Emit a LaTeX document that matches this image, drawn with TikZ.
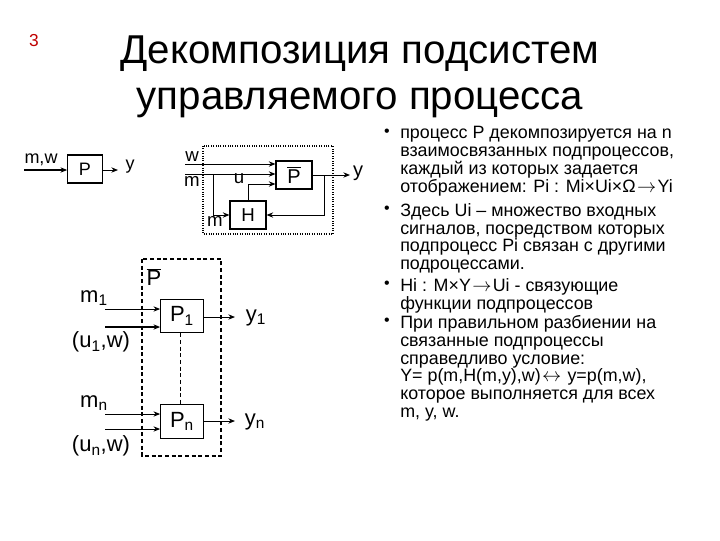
\documentclass[tikz,border=0pt]{standalone}
\usepackage{fontspec}
\setmainfont{Liberation Sans}
\newcommand{\ra}{\kern1pt$\rightarrow$\kern1pt}
\newcommand{\lra}{\kern1pt$\leftrightarrow$\kern1pt}
\usetikzlibrary{arrows.meta, calc, positioning}

\tikzset{
  blk/.style={draw, line width=0.8pt, inner sep=0pt, minimum width=35, minimum height=28},
  sig/.style={-{Stealth[length=5pt, width=4pt]}, line width=0.7pt},
  thk/.style={line width=1.4pt},
  lbl/.style={inner sep=0pt},
  txt/.style={anchor=north west, align=left, inner sep=0pt, font=\fontsize{13.4}{13.4}\selectfont},
  dot/.style={inner sep=0pt, font=\fontsize{12}{13}\selectfont}
}

\begin{document}
\begin{tikzpicture}[x=0.75pt, y=-0.75pt, >=Stealth]
    \useasboundingbox (0,0) rectangle (720,540);

    % title
    \node[lbl, text=red!75!black, font=\fontsize{13}{13}\selectfont] (num) at (34,41) {3};
    \node[lbl, anchor=north, align=center, font=\fontsize{30.2}{34.5}\selectfont] (title) at (360,36)
        {Декомпозиция подсистем\\управляемого процесса};

    % P alone
    \node[blk, minimum width=26, minimum height=21, font=\fontsize{13.5}{14}\selectfont] (p) at (85,169) {P};
    \coordinate (mw) at (24,170);
    \coordinate (yend) at (118,170);
    \draw[sig, thk] (mw) -- (mw -| p.west);
    \draw[sig] (p.east |- yend) -- (yend);
    \node[lbl, font=\fontsize{13.5}{14}\selectfont] (mwl) at (41,160) {m,w};
    \node[lbl, font=\fontsize{13.5}{14}\selectfont] (yl) at (130,167) {y};

    % P with feedback H
    \draw[densely dotted, line width=0.8pt] (203,146) rectangle (333,234);
    \node[blk, minimum width=27, minimum height=21, font=\fontsize{15}{15}\selectfont] (pb) at (294,175) {$\overline{\mbox{P}}$};
    \node[blk, minimum width=27, minimum height=21, font=\fontsize{14}{14}\selectfont] (h) at (248,215) {H};
    \coordinate (win) at (185,164);
    \coordinate (min) at (185,174);
    \coordinate (br) at (213,174);
    \coordinate (fb) at (324,175);
    \coordinate (yout) at (350,175);
    \draw[sig] (win) -- (win -| pb.west);
    \draw[sig] (min) -- (min -| pb.west);
    \draw[sig] (br) |- (h.west);
    \draw[sig] (h.north) |- ($(pb.west)+(0,9)$);
    \draw[sig] (pb.east) -- (yout);
    \draw[sig] (fb) |- (h.east);
    \node[lbl, font=\fontsize{14}{14}\selectfont] (wl) at (192,157) {w};
    \node[lbl, font=\fontsize{14}{14}\selectfont] (ml) at (192,181) {m};
    \node[lbl, font=\fontsize{14}{14}\selectfont] (ul) at (239,179) {u};
    \node[lbl, font=\fontsize{14}{14}\selectfont] (ml2) at (215,221) {m};
    \node[lbl, font=\fontsize{15}{15}\selectfont] (yl2) at (358,173) {y};

    % decomposed P
    \draw[densely dashed, line width=0.8pt] (142,259) rectangle (221,456);
    \node[lbl, font=\fontsize{16.5}{17}\selectfont] (pbl) at (154,277) {$\overline{\mbox{P}}$};
    \node[blk, minimum width=32, minimum height=25, font=\fontsize{16.5}{17}\selectfont] (p1) at (182,316) {P\textsubscript{1}};
    \node[blk, minimum width=32, minimum height=26, font=\fontsize{16.5}{17}\selectfont] (pn) at (182,421.5) {P\textsubscript{n}};
    \draw[densely dashed, line width=0.7pt] (p1.south -| 180,0) -- (pn.north -| 180,0);
    \coordinate (m1) at (105,309);
    \coordinate (u1) at (105,327);
    \coordinate (mn) at (105,414);
    \coordinate (un) at (105,429);
    \coordinate (y1) at (235,317);
    \coordinate (yn) at (235,421);
    \draw[sig] (m1) -- (m1 -| p1.west);
    \draw[sig, thk] (u1) -- (u1 -| p1.west);
    \draw[sig] (mn) -- (mn -| pn.west);
    \draw[sig] (un) -- (un -| pn.west);
    \draw[sig] (p1.east |- y1) -- (y1);
    \draw[sig] (pn.east |- yn) -- (yn);
    \node[lbl, font=\fontsize{16.5}{17}\selectfont] (m1l) at (94,298) {m\textsubscript{1}};
    \node[lbl, font=\fontsize{16.5}{17}\selectfont] (u1l) at (101,342) {(u\textsubscript{1},w)};
    \node[lbl, font=\fontsize{16.5}{17}\selectfont] (y1l) at (256,318) {y\textsubscript{1}};
    \node[lbl, font=\fontsize{16.5}{17}\selectfont] (mnl) at (94,403) {m\textsubscript{n}};
    \node[lbl, font=\fontsize{16.5}{17}\selectfont] (unl) at (101,446) {(u\textsubscript{n},w)};
    \node[lbl, font=\fontsize{16.5}{17}\selectfont] (ynl) at (255,422) {y\textsubscript{n}};

    % bullets
    \node[dot] (d1) at (387,133) {•};
    \node[dot] (d2) at (387,210) {•};
    \node[dot] (d3) at (387,285) {•};
    \node[dot] (d4) at (387,322) {•};
    \node[txt] (t1) at (400,126) {процесс P декомпозируется на n\\взаимосвязанных подпроцессов,\\каждый из которых задается\\отображением: Pi : Mi×Ui×Ω\ra Yi};
    \node[txt] (t2) at (400,203) {Здесь Ui – множество входных\\сигналов, посредством которых\\подпроцесс Pi связан с другими\\подроцессами.};
    \node[txt] (t3) at (400,278) {Hi : M×Y\ra Ui - связующие\\функции подпроцессов};
    \node[txt] (t4) at (400,315) {При правильном разбиении на\\связанные подпроцессы\\справедливо условие:\\Y= p(m,H(m,y),w)\lra{} y=p(m,w),\\которое выполняется для всех\\m, y, w.};
\end{tikzpicture}
\end{document}
